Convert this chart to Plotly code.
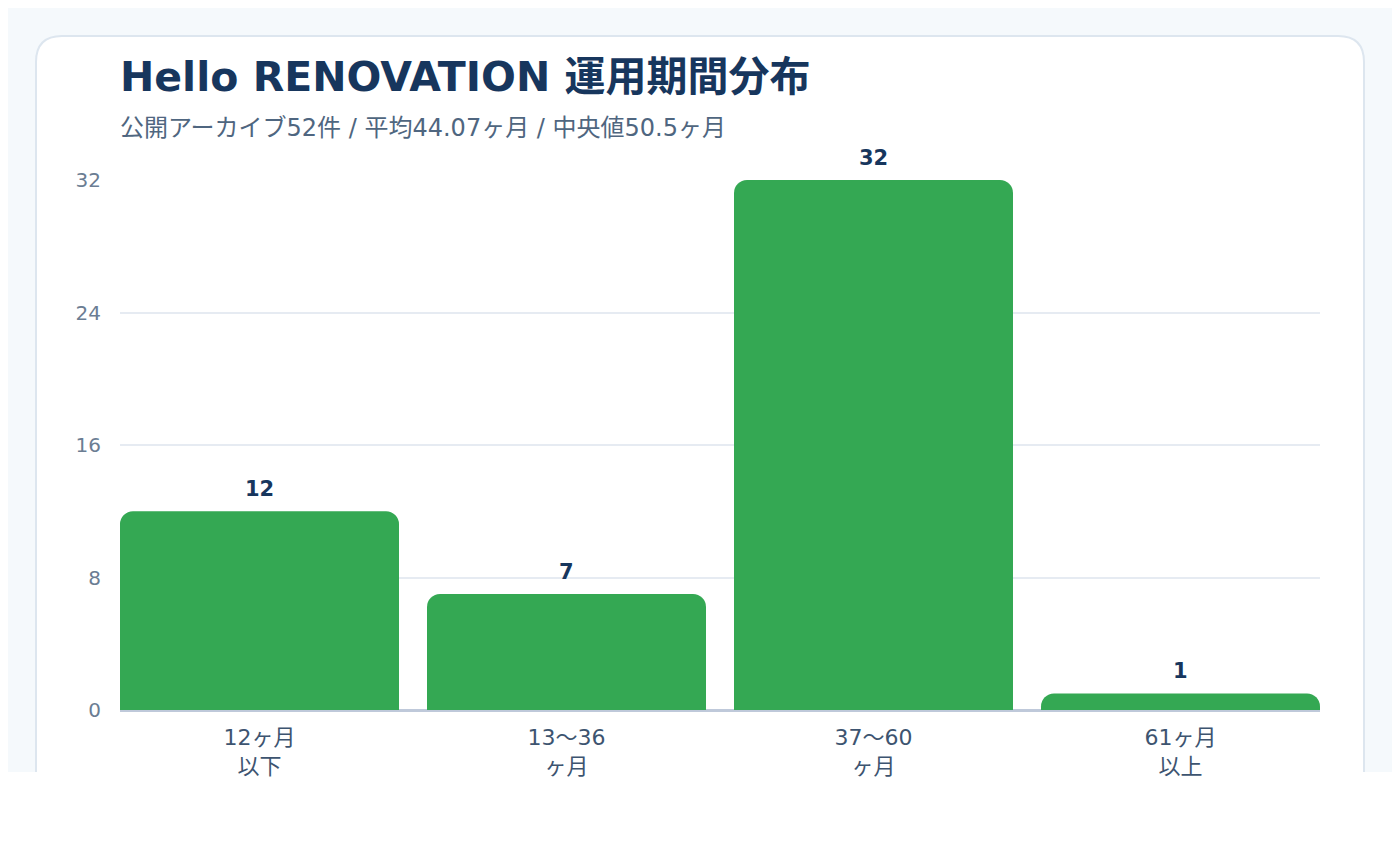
import plotly.graph_objects as go

# data
categories = ["12ヶ月以下", "13〜36ヶ月", "37〜60ヶ月", "61ヶ月以上"]
tick_labels = ["12ヶ月<br>以下", "13〜36<br>ヶ月", "37〜60<br>ヶ月", "61ヶ月<br>以上"]
counts = [12, 7, 32, 1]
y_ticks = [0, 8, 16, 24, 32]

title_text = "Hello RENOVATION 運用期間分布"
subtitle_text = "公開アーカイブ52件 / 平均44.07ヶ月 / 中央値50.5ヶ月"

# the page puts the figure 8px in from the window corner
OFF = 8
W, H = 1384, 844
ML, MT = 120 - OFF, 180 - OFF
PW, PH = 1200, 530
MR = W - ML - PW
MB = H - MT - PH

FONT = "DejaVu Sans, Noto Sans CJK JP, sans-serif"
NAVY = "#17365d"
GREEN = "#34a853"


def px_x(px):
    # window pixel -> paper fraction
    return (px - OFF - ML) / PW


def px_y(py):
    return (MT + PH - (py - OFF)) / PH


fig = go.Figure()

fig.add_trace(go.Bar(
    x=list(range(len(categories))),
    y=counts,
    marker=dict(color=GREEN, cornerradius=13, line=dict(width=0)),
    hoverinfo="x+y",
    hovertext=categories,
    width=0.9088,
))

# value labels over the bars
for i, v in enumerate(counts):
    fig.add_annotation(x=i, y=v, text="<b>%d</b>" % v, showarrow=False,
                       yshift=22, font=dict(size=21, color=NAVY, family=FONT),
                       xref="x", yref="y")

# page background and card
shapes = [
    dict(type="rect", xref="paper", yref="paper", layer="below",
         x0=px_x(0), x1=px_x(1400), y0=px_y(772), y1=px_y(0),
         fillcolor="#f5f9fc", line=dict(width=0)),
]
r = 26
x0c, x1c, y0c, yb = 36, 1364, 36, 772
card_path = "M {l},{b} L {l},{t1} Q {l},{t} {l1},{t} L {r1},{t} Q {r},{t} {r},{t1} L {r},{b}".format(
    l=px_x(x0c), r=px_x(x1c), b=px_y(yb), t=px_y(y0c), t1=px_y(y0c + r),
    l1=px_x(x0c + r), r1=px_x(x1c - r))
shapes.append(dict(type="path", xref="paper", yref="paper", layer="below",
                   path=card_path, fillcolor="#ffffff",
                   line=dict(color="#dde6ef", width=2)))
fig.update_layout(shapes=shapes)

fig.add_annotation(text="<b>" + title_text + "</b>", xref="paper", yref="paper",
                   x=px_x(118), y=px_y(77), xanchor="left", yanchor="middle",
                   showarrow=False, font=dict(size=41, color=NAVY, family=FONT))
fig.add_annotation(text=subtitle_text, xref="paper", yref="paper",
                   x=px_x(118), y=px_y(128), xanchor="left", yanchor="middle",
                   showarrow=False, font=dict(size=24, color="#4f6680", family=FONT))

fig.update_layout(
    width=W, height=H,
    margin=dict(l=ML, r=MR, t=MT, b=MB, pad=0),
    paper_bgcolor="#ffffff",
    plot_bgcolor="rgba(0,0,0,0)",
    showlegend=False,
    font=dict(family=FONT),
    bargap=0.0912,
)
fig.update_xaxes(
    range=[-0.4544, 3.4544],
    tickvals=list(range(len(categories))),
    ticktext=tick_labels,
    tickfont=dict(size=22, color="#3d5470", family=FONT),
    showgrid=False, zeroline=False,
    showline=False, ticks="", ticklabelstandoff=12,
    fixedrange=True,
)
fig.update_yaxes(
    range=[0, 32],
    tickvals=y_ticks,
    tickfont=dict(size=20, color="#6b7d93", family=FONT),
    showgrid=True, gridcolor="#e6ebf2", gridwidth=1.5,
    zeroline=True, zerolinecolor="#bfc9da", zerolinewidth=3,
    showline=False, ticks="", ticklabelstandoff=18,
    fixedrange=True,
)
for tr in fig.data:
    tr.cliponaxis = False

fig.write_html("out.html")
